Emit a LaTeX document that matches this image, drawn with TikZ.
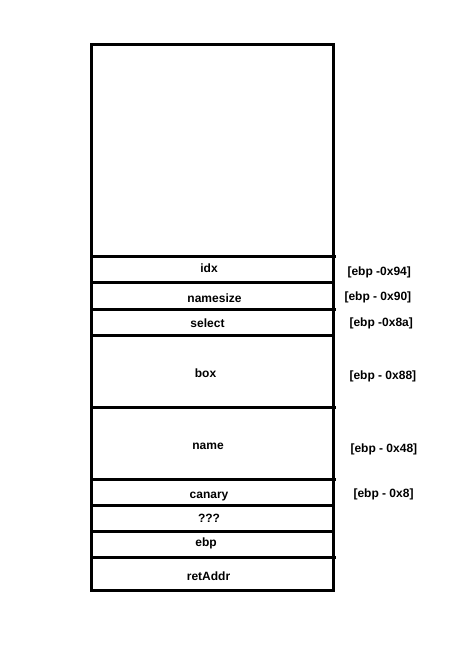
\documentclass[tikz,border=0pt]{standalone}
\usepackage{fontspec}
\setmainfont{Liberation Sans}
\usetikzlibrary{positioning}

\begin{document}
\begin{tikzpicture}[x=0.75pt,y=-0.75pt,line width=2.25pt]
    \useasboundingbox (0,0) rectangle (467,648);
    \draw (91,45) rectangle (333,590);
    \foreach \y in {282,335,505,531} \draw (91,\y) -- (333,\y);
    \foreach \y in {256,309,407,479,557} \draw (91,\y) -- (336,\y);
    \begin{scope}[every node/.style={font=\fontsize{9}{11}\selectfont\bfseries, inner sep=0pt, text height=6.5pt, text depth=0pt}]
    \node (idx)      at (209,268)   {idx};
    \node (namesize) at (214.5,298) {namesize};
    \node (select)   at (207.5,323) {select};
    \node (box)      at (205.5,373.5) {box};
    \node (name)     at (208,445.5) {name};
    \node (canary)   at (209,494)   {canary};
    \node (unknown)  at (209,518)   {???};
    \node (ebp)      at (206,542)   {ebp};
    \node (retaddr)  at (208.5,576) {retAddr};
    \end{scope}
    \begin{scope}[every node/.style={font=\fontsize{9}{11}\selectfont\bfseries, inner sep=0pt, text height=6.5pt, text depth=0pt, anchor=west}]
    \node (idxoff)      at (346,271) {[ebp -0x94]};
    \node (namesizeoff) at (343,296) {[ebp - 0x90]};
    \node (selectoff)   at (348,322) {[ebp -0x8a]};
    \node (boxoff)      at (348,375) {[ebp - 0x88]};
    \node (nameoff)     at (349,448) {[ebp - 0x48]};
    \node (canaryoff)   at (352,493) {[ebp - 0x8]};
    \end{scope}
\end{tikzpicture}
\end{document}
